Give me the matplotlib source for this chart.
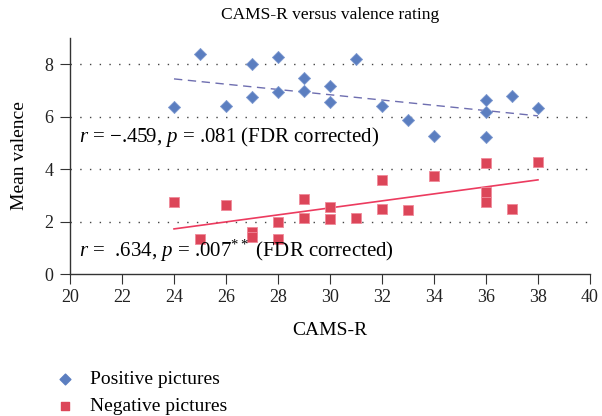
import numpy as np
import matplotlib
matplotlib.use("Agg")
import matplotlib.pyplot as plt

plt.rcParams["font.family"] = ["Liberation Serif", "DejaVu Serif"]
plt.rcParams["mathtext.fontset"] = "custom"
plt.rcParams["mathtext.rm"] = "Liberation Serif"
plt.rcParams["mathtext.it"] = "Liberation Serif:italic"

# CAMS-R scores and mean valence ratings
pos_x = [24, 25, 26, 27, 27, 28, 28, 29, 29, 30, 30, 31, 32, 33, 34, 36, 36, 36, 37, 38]
pos_y = [6.37, 8.4, 6.41, 6.75, 8.0, 8.28, 6.95, 7.48, 6.98, 7.18, 6.56, 8.2, 6.41, 5.88, 5.27, 6.64, 6.18, 5.23, 6.79, 6.34]

neg_x = [24, 25, 26, 27, 27, 28, 28, 29, 29, 30, 30, 31, 32, 32, 33, 34, 36, 36, 36, 37, 38]
neg_y = [2.75, 1.34, 2.63, 1.6, 1.42, 1.98, 1.34, 2.86, 2.14, 2.56, 2.1, 2.14, 3.59, 2.48, 2.44, 3.74, 4.24, 3.13, 2.75, 2.48, 4.27]

# trend lines as drawn in the figure (x from 24 to 38)
fit_x = [24, 38]
pos_fit = [7.44, 6.03]
neg_fit = [1.72, 3.59]

fig = plt.figure(figsize=(6.02, 4.16), dpi=100)
ax = fig.add_axes([0.1163, 0.3413, 0.8637, 0.5674])

blue = "#5b7ec0"
red = "#dc4659"

ax.scatter(pos_x, pos_y, marker="D", s=38, color=blue, edgecolors="#7f9ad0", linewidths=0.6, zorder=3)
ax.scatter(neg_x, neg_y, marker="s", s=52, color=red, edgecolors="#f08a9a", linewidths=0.6, zorder=3)

ax.plot(fit_x, pos_fit, color="#6e6eb0", lw=1.0, ls=(0, (6, 4)), zorder=2)
ax.plot(fit_x, neg_fit, color="#ec3b5f", lw=1.2, zorder=2)

ax.set_xlim(20, 40)
ax.set_ylim(0, 9)
ax.set_xticks(range(20, 41, 2))
ax.set_yticks([0, 2, 4, 6, 8])
for v in [2, 4, 6, 8]:
    ax.axhline(v, color="#444444", lw=1.0, ls=(0, (1, 6)), zorder=1)

for s in ["top", "right"]:
    ax.spines[s].set_visible(False)
for s in ["left", "bottom"]:
    ax.spines[s].set_color("#333333")
    ax.spines[s].set_linewidth(1.0)
ax.tick_params(direction="out", length=7, color="#333333", labelsize=13, labelcolor="#222222")
ax.tick_params(axis="y", pad=5)

ax.set_title("CAMS-R versus valence rating", fontsize=12.5, pad=14)
ax.set_xlabel("CAMS-R", fontsize=14, labelpad=12)
ax.set_ylabel("Mean valence", fontsize=14, labelpad=12)

ax.text(20.35, 5.23, r"$r$ = −.459, $p$ = .081 (FDR corrected)", fontsize=15, va="center")
ax.text(20.35, 0.88, r"$r$ =  .634, $p$ = .007$^{**}$ (FDR corrected)", fontsize=15, va="center")

h1 = ax.scatter([], [], marker="D", s=30, color=blue)
h2 = ax.scatter([], [], marker="s", s=40, color=red)
fig.legend([h1, h2], ["Positive pictures", "Negative pictures"], loc="upper left",
           bbox_to_anchor=(0.075, 0.132), frameon=False, fontsize=14,
           handlelength=1.0, handletextpad=0.8, labelspacing=0.45, borderpad=0)

fig.savefig("out.png", dpi=100)
